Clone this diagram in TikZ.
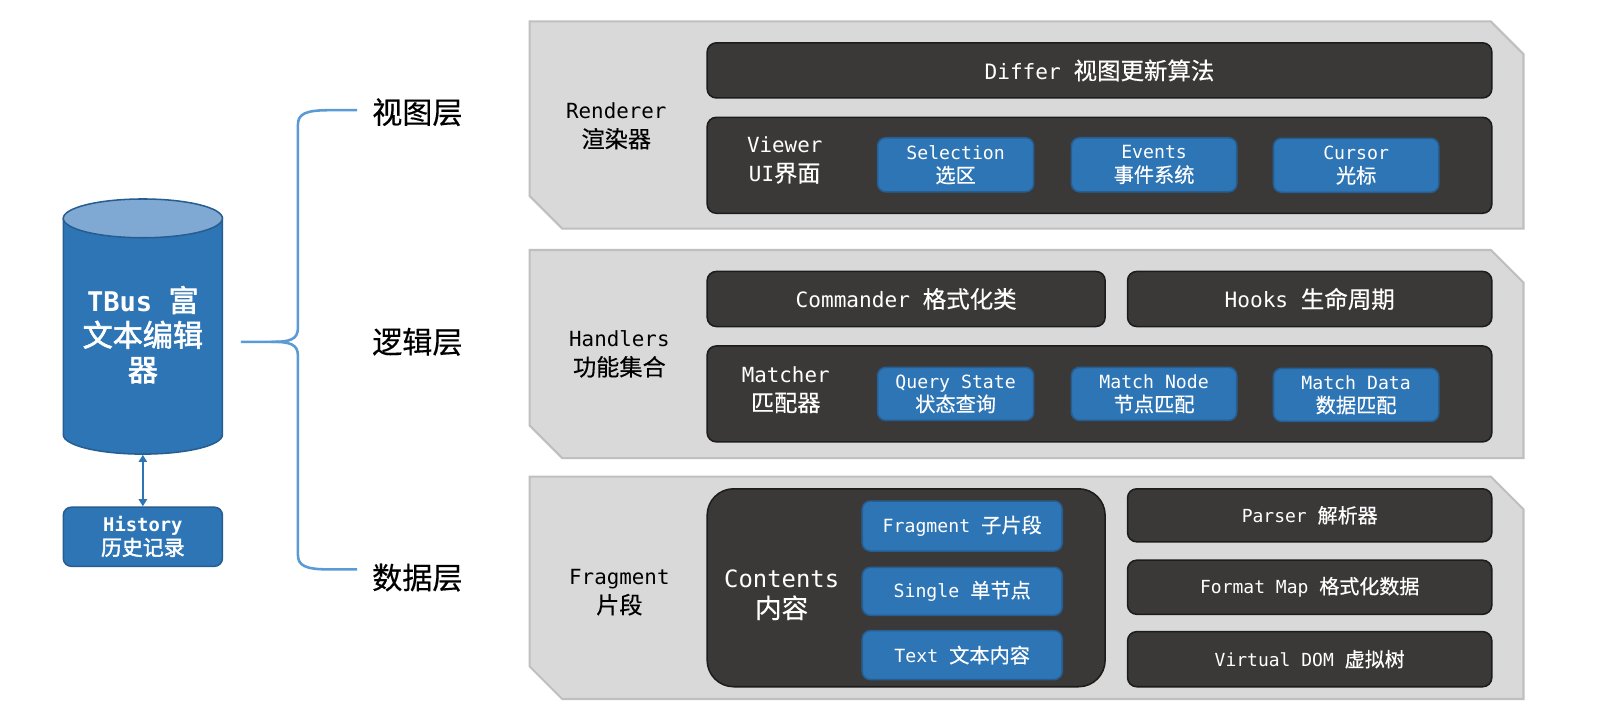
\documentclass[tikz,border=0pt]{standalone}
\usepackage{fontspec}
\newfontfamily\mono{DejaVu Sans Mono}[Scale=0.9]
\newfontfamily\cjk{Noto Sans CJK SC}[FakeBold=0.4, AutoFakeBold=2]
\newcommand\zhs[1]{{\cjk #1}}
\usetikzlibrary{arrows.meta}
\definecolor{panelfill}{HTML}{D9D9D9}
\definecolor{panelline}{HTML}{BFBFBF}
\definecolor{darkfill}{HTML}{3A3938}
\definecolor{darkline}{HTML}{1C1C1C}
\definecolor{bluefill}{HTML}{2E75B6}
\definecolor{blueline}{HTML}{265E91}
\definecolor{bluetop}{HTML}{7FA9D3}
\definecolor{bracecol}{HTML}{5B9BD5}
\tikzset{
  panel/.style={fill=panelfill, draw=panelline, line width=2pt},
  darkbox/.style={rectangle, rounded corners=9pt, fill=darkfill, draw=darkline, line width=1.5pt, text=white, inner sep=0pt, align=center, font=\fontsize{23}{28}\selectfont},
  bluebox/.style={rectangle, rounded corners=8pt, fill=bluefill, draw=blueline, line width=1.5pt, text=white, inner sep=0pt, align=center, font=\fontsize{19.8}{23}\selectfont},
  paneltext/.style={align=center, text=black, font=\fontsize{22.7}{28.5}\selectfont},
  innertext/.style={align=center, text=white, font=\fontsize{22.7}{28.5}\selectfont},
  smalldark/.style={darkbox, font=\fontsize{19.6}{23}\selectfont},
  layertext/.style={text=black, font=\fontsize{29.5}{33}\selectfont\cjk},
  bracestyle/.style={draw=bracecol, line width=2.5pt},
}
\begin{document}
\begin{tikzpicture}[x=1pt,y=-1pt]
\useasboundingbox (0,0) rectangle (1568,706.6);
\fill[white] (0,0) rectangle (1568,706.6);

% ---------- panels ----------
\draw[panel] (519,21) -- (1461,21) -- (1493,53) -- (1493,224) -- (551,224) -- (519,192) -- cycle;
\draw[panel] (519,245) -- (1461,245) -- (1493,277) -- (1493,449) -- (551,449) -- (519,417) -- cycle;
\draw[panel] (519,467) -- (1461,467) -- (1493,499) -- (1493,685) -- (551,685) -- (519,653) -- cycle;

% ---------- view layer ----------
\node[paneltext] (renderer) at (604,123.5) {\mono Renderer\\\zhs{渲染器}};
\node[darkbox, minimum width=769pt, minimum height=54pt] (differ) at (1077.5,69) {\mono Differ \zhs{视图更新算法}};
\node[darkbox, minimum width=769pt, minimum height=94pt] (viewer) at (1077.5,162) {};
\node[innertext] (viewerlabel) at (769,157) {\mono Viewer\\\mono UI\zhs{界面}};
\node[bluebox, minimum width=153pt, minimum height=53pt] (selection) at (936.5,161.5) {\mono Selection\\\zhs{选区}};
\node[bluebox, minimum width=162pt, minimum height=53pt] (events) at (1131,161.5) {\mono Events\\\zhs{事件系统}};
\node[bluebox, minimum width=162pt, minimum height=53pt] (cursor) at (1329,162) {\mono Cursor\\\zhs{光标}};

% ---------- logic layer ----------
\node[paneltext] (handlers) at (607,347) {\mono Handlers\\\zhs{功能集合}};
\node[darkbox, minimum width=390pt, minimum height=54pt] (commander) at (888,293) {\mono Commander \zhs{格式化类}};
\node[darkbox, minimum width=357pt, minimum height=54pt] (hooks) at (1283.5,293) {\mono Hooks \zhs{生命周期}};
\node[darkbox, minimum width=769pt, minimum height=94pt] (matcher) at (1077.5,386) {};
\node[innertext] (matcherlabel) at (770,382) {\mono Matcher\\\zhs{匹配器}};
\node[bluebox, minimum width=153pt, minimum height=52pt] (query) at (936.5,386) {\mono Query State\\\zhs{状态查询}};
\node[bluebox, minimum width=162pt, minimum height=52pt] (matchnode) at (1131,386) {\mono Match Node\\\zhs{节点匹配}};
\node[bluebox, minimum width=162pt, minimum height=52pt] (matchdata) at (1329,387) {\mono Match Data\\\zhs{数据匹配}};

% ---------- data layer ----------
\node[paneltext] (fragment) at (607,580.5) {\mono Fragment\\\zhs{片段}};
\node[darkbox, rounded corners=26pt, minimum width=390pt, minimum height=194pt] (contents) at (888,576) {};
\node[innertext, font=\fontsize{26}{30}\selectfont] (contentslabel) at (766,583) {\mono Contents\\\zhs{内容}};
\node[bluebox, minimum width=196pt, minimum height=49pt] (subfrag) at (943,515.5) {\mono Fragment \zhs{子片段}};
\node[bluebox, minimum width=196pt, minimum height=47pt] (single) at (943,579.5) {\mono Single \zhs{单节点}};
\node[bluebox, minimum width=196pt, minimum height=48pt] (text) at (943,642) {\mono Text \zhs{文本内容}};
\node[smalldark, minimum width=357pt, minimum height=52pt] (parser) at (1283.5,505) {\mono Parser \zhs{解析器}};
\node[smalldark, minimum width=357pt, minimum height=53pt] (formatmap) at (1283.5,575.5) {\mono Format Map \zhs{格式化数据}};
\node[smalldark, minimum width=357pt, minimum height=54pt] (vdom) at (1283.5,646) {\mono Virtual DOM \zhs{虚拟树}};

% ---------- cylinder ----------
\path[fill=bluefill, draw=blueline, line width=1.5pt]
  (62,214) -- (62,426) .. controls (62,436.5) and (97,445) .. (140,445)
  .. controls (183,445) and (218,436.5) .. (218,426) -- (218,214) -- cycle;
\draw[fill=bluetop, draw=blueline, line width=1.5pt] (140,214) ellipse [x radius=78, y radius=19];
\node[minimum width=156pt, minimum height=251pt, inner sep=0pt] (cyl) at (140,320) {};
\node[align=center, text=white, font=\fontsize{29.5}{34}\selectfont\bfseries] (cyltext) at (140,328)
  {\mono TBus \zhs{富}\\\zhs{文本编辑}\\\zhs{器}};

\node[bluebox, minimum width=156pt, minimum height=58pt, font=\fontsize{20.5}{23}\selectfont\bfseries] (history) at (140,526)
  {\mono History\\\zhs{历史记录}};
\draw[draw=bluefill, line width=2pt, {Triangle[width=8pt,length=7pt]}-{Triangle[width=8pt,length=7pt]}] (cyl.south) -- (history.north);

% ---------- brace ----------
\coordinate (bracetip) at (236,335);
\draw[bracestyle] (bracetip) -- (266,335) .. controls (284,335) and (292,333) .. (292,321) -- (292,122)
  .. controls (292,112) and (299,108) .. (322,108) -- (350,108);
\draw[bracestyle] (266,335) .. controls (284,335) and (292,337) .. (292,349) -- (292,544)
  .. controls (292,554) and (299,558) .. (322,558) -- (350,558);

\node[layertext] (viewlayer) at (409,110) {视图层};
\node[layertext] (logiclayer) at (409,335) {逻辑层};
\node[layertext] (datalayer) at (409,566) {数据层};
\end{tikzpicture}
\end{document}
